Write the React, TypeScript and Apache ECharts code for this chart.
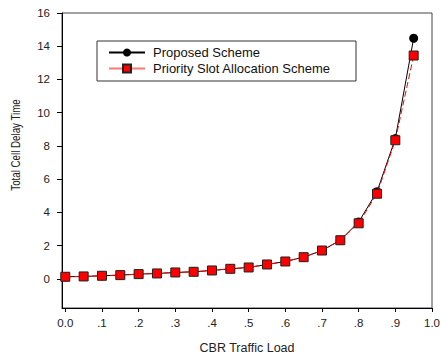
import React, { useEffect, useRef } from "react";
import * as echarts from "echarts";

const loads = [0, 0.05, 0.1, 0.15, 0.2, 0.25, 0.3, 0.35, 0.4, 0.45, 0.5, 0.55, 0.6, 0.65, 0.7, 0.75, 0.8, 0.85, 0.9, 0.95];
const proposed = [0.12, 0.14, 0.18, 0.22, 0.28, 0.32, 0.38, 0.42, 0.5, 0.6, 0.68, 0.86, 1.04, 1.3, 1.7, 2.32, 3.42, 5.24, 8.44, 14.48];
const priority = [0.12, 0.14, 0.18, 0.22, 0.28, 0.32, 0.38, 0.42, 0.5, 0.6, 0.68, 0.86, 1.04, 1.3, 1.7, 2.32, 3.34, 5.12, 8.34, 13.44];
const xTicks = [0, 0.1, 0.2, 0.3, 0.4, 0.5, 0.6, 0.7, 0.8, 0.9, 1.0];
const yTicks = [0, 2, 4, 6, 8, 10, 12, 14, 16];
const seriesNames = ["Proposed Scheme", "Priority Slot Allocation Scheme"];
const xTitle = "CBR Traffic Load";
const yTitle = "Total Cell Delay Time";

const FONT = "Liberation Sans";

export default function App() {
  const ref = useRef<HTMLDivElement>(null);
  useEffect(() => {
    if (!ref.current) return;
    const chart = echarts.init(ref.current, null, { renderer: "svg" });
    const fmtX = (v: number) => {
      const r = Math.round(v * 10) / 10;
      if (r === 0) return "0.0";
      if (r === 1) return "1.0";
      return "." + Math.round(r * 10);
    };
    chart.setOption({
      animation: false,
      backgroundColor: "#fff",
      grid: {
        left: 62,
        right: 9,
        top: 13,
        bottom: 46,
        containLabel: false,
        outerBoundsMode: "none",
        show: true,
        borderColor: "#444",
        borderWidth: 1,
      },
      legend: {
        orient: "vertical",
        left: 108,
        top: 46,
        itemWidth: 36,
        itemHeight: 10,
        itemGap: 3,
        padding: 0,
        data: [
          { name: seriesNames[0] },
          { name: seriesNames[1], lineStyle: { type: "solid", color: "#f77" } },
        ],
        textStyle: { fontFamily: FONT, fontSize: 13, color: "#111", padding: [0, 0, 0, 3] },
      },
      graphic: [
        {
          type: "rect",
          shape: { x: 97, y: 41, width: 259, height: 40 },
          style: { fill: "none", stroke: "#333", lineWidth: 1 },
          z: 10,
        },
        {
          type: "text",
          x: 16,
          y: 145,
          rotation: Math.PI / 2,
          scaleX: 0.78,
          style: {
            text: yTitle,
            fontFamily: FONT,
            fontSize: 12.5,
            fill: "#222",
            align: "center",
            verticalAlign: "middle",
          },
        },
      ],
      xAxis: {
        type: "value",
        min: -0.009,
        max: 1.0,
        axisLine: { onZero: false, lineStyle: { color: "#000" } },
        axisTick: { customValues: xTicks, length: 4, lineStyle: { color: "#000" } },
        axisLabel: {
          customValues: xTicks,
          formatter: fmtX,
          fontFamily: FONT,
          fontSize: 11.5,
          color: "#222",
          margin: 9,
        },
        splitLine: { show: false },
        name: xTitle,
        nameLocation: "middle",
        nameGap: 33,
        nameTextStyle: { fontFamily: FONT, fontSize: 12.5, color: "#222" },
      },
      yAxis: {
        type: "value",
        min: -1.76,
        max: 16,
        axisLine: { onZero: false, lineStyle: { color: "#000" } },
        axisTick: { customValues: yTicks, length: 5, lineStyle: { color: "#000" } },
        axisLabel: {
          customValues: yTicks,
          fontFamily: FONT,
          fontSize: 11.5,
          color: "#222",
          margin: 12,
        },
        splitLine: { show: false },
      },
      series: [
        {
          name: seriesNames[0],
          type: "line",
          data: loads.map((x, i) => [x, proposed[i]]),
          symbol: "circle",
          symbolSize: 9,
          lineStyle: { color: "#000", width: 1 },
          itemStyle: { color: "#000", borderColor: "#000", borderWidth: 0 },
          z: 2,
        },
        {
          name: seriesNames[1],
          type: "line",
          data: loads.map((x, i) => [x, priority[i]]),
          symbol: "rect",
          symbolSize: 9,
          lineStyle: { color: "#f00", width: 1, type: [6, 3] },
          itemStyle: { color: "#f00", borderColor: "#222", borderWidth: 1 },
          z: 3,
        },
      ],
    });
    return () => chart.dispose();
  }, []);
  return <div ref={ref} style={{ width: 441, height: 354, position: "absolute", left: 0, top: 0 }} />;
}
